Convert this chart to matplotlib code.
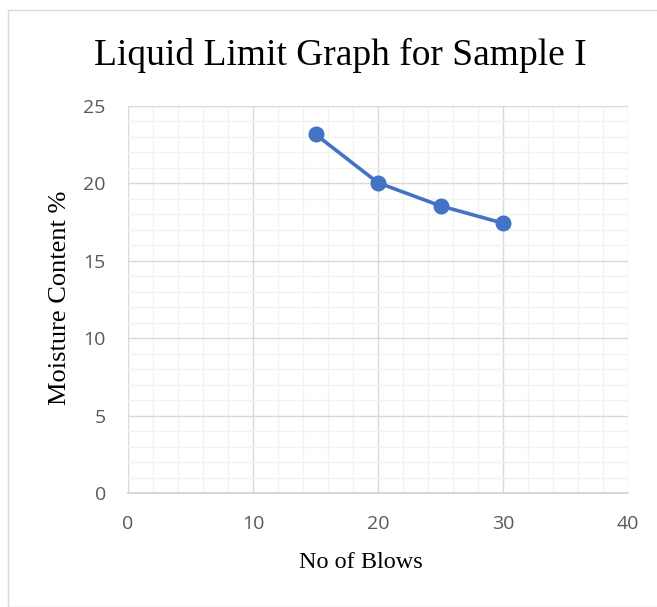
import matplotlib
matplotlib.use("Agg")
import matplotlib.pyplot as plt
from matplotlib.ticker import MultipleLocator
from matplotlib.patches import Rectangle

blows = [15, 20, 25, 30]
moisture = [23.17, 20.04, 18.55, 17.43]
x_ticks = [0, 10, 20, 30, 40]
y_ticks = [0, 5, 10, 15, 20, 25]
title = "Liquid Limit Graph for Sample I"
xlabel = "No of Blows"
ylabel = "Moisture Content %"

W, H = 657, 607
fig = plt.figure(figsize=(W / 100, H / 100), dpi=100)
fig.patches.append(Rectangle((8 / W, 0), 1, (H - 10) / H, transform=fig.transFigure,
                             fill=False, edgecolor="#d9d9d9", linewidth=1.0))

ax = fig.add_axes([128 / W, (H - 493) / H, (628 - 128) / W, (493 - 106) / H])
ax.set_xlim(0, 40)
ax.set_ylim(0, 25)
ax.set_xticks(x_ticks)
ax.set_yticks(y_ticks)
ax.xaxis.set_minor_locator(MultipleLocator(2))
ax.yaxis.set_minor_locator(MultipleLocator(1))
ax.grid(which="minor", color="#f2f2f2", linewidth=1.0)
ax.grid(which="major", color="#d9d9d9", linewidth=1.0)
ax.set_axisbelow(True)
for s in ["top", "right", "left"]:
    ax.spines[s].set_visible(False)
ax.spines["bottom"].set_color("#d0d0d0")
ax.spines["bottom"].set_linewidth(1.2)
ax.tick_params(which="both", length=0)
ax.tick_params(axis="x", pad=16)
ax.tick_params(axis="y", pad=16)
for lbl in ax.get_xticklabels() + ax.get_yticklabels():
    lbl.set_fontfamily("Open Sans")
    lbl.set_fontsize(14)
    lbl.set_color("#595959")

ax.plot(blows, moisture, color="#4472C4", linewidth=2.6, marker="o",
        markersize=10.5, markerfacecolor="#4472C4", markeredgecolor="#4472C4",
        solid_capstyle="round", clip_on=False)

fig.text(340 / W, 1 - 55 / H, title, ha="center", va="center",
         family="Liberation Serif", fontsize=27, color="black")
fig.text(361 / W, 1 - 563 / H, xlabel, ha="center", va="center",
         family="Liberation Serif", fontsize=17.5, color="black")
fig.text(60 / W, 1 - 298 / H, ylabel, ha="center", va="center", rotation=90,
         family="Liberation Serif", fontsize=19, color="black")

fig.savefig("out.png", dpi=100)
